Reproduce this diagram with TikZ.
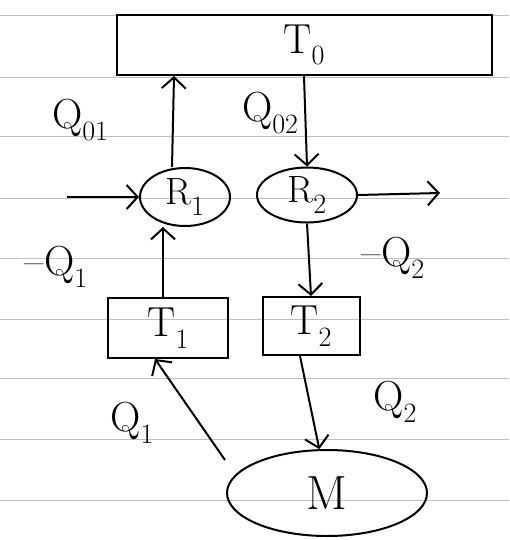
\documentclass[tikz,border=0pt]{standalone}
\usepackage{fontspec}
\usetikzlibrary{shapes.geometric,arrows.meta,calc}
\newcommand{\sbs}[1]{\raisebox{-0.28em}{\fontsize{28}{30}\selectfont #1}}
\begin{document}
\begin{tikzpicture}[x=1pt,y=-1pt,line width=2pt,
  box/.style={draw,rectangle,inner sep=0pt,font=\fontsize{42}{46}\selectfont},
  oval/.style={draw,ellipse,inner sep=0pt,font=\fontsize{38}{42}\selectfont},
  arr/.style={-{Straight Barb[length=11pt,width=24pt,line width=2pt]}},
  lab/.style={font=\fontsize{42}{46}\selectfont,inner sep=0pt},
  rule/.style={draw=gray!50,line width=0.8pt}]
\useasboundingbox (0,0) rectangle (509,540);
\foreach \yy in {15,77,136,198,258,319,378,439,500}
  \draw[rule] (0,\yy) -- (509,\yy);
% nodes
\node[box,minimum width=375pt,minimum height=60pt] (T0) at (304,45) {T\sbs{0}};
\node[oval,minimum width=90pt,minimum height=58pt] (R1) at (185,197) {R\sbs{1}};
\node[oval,minimum width=100pt,minimum height=55pt] (R2) at (307,195) {R\sbs{2}};
\node[box,minimum width=120pt,minimum height=60pt] (T1) at (168,328) {T\sbs{1}};
\node[box,minimum width=97pt,minimum height=58pt] (T2) at (311,326) {T\sbs{2}};
\node[oval,minimum width=200pt,minimum height=86pt,font=\fontsize{48}{52}\selectfont] (M) at (327,493) {M};
\coordinate (in1) at (67,197);
\coordinate (out2) at (440,193);
% connectors
\draw[arr] ([xshift=-13pt]R1.north) -- ([xshift=-130pt]T0.south);
\draw[arr] (T0.south) -- (R2.north);
\draw[arr] (in1) -- (R1.west);
\draw[arr] (R2.east) -- (out2);
\draw[arr] ([xshift=-5pt]T1.north) -- ([xshift=-5pt]T1.north |- R1.south);
\draw[arr] (R2.south) -- (T2.north);
\draw[arr] ($(M.center)+(-102,-33)$) -- ([xshift=-13pt]T1.south);
\draw[arr] ([xshift=-11pt]T2.south) -- (M.100);
% labels
\node[lab] (lQ01) at (80,120) {Q\sbs{01}};
\node[lab] (lQ02) at (270,113) {Q\sbs{02}};
\node[lab] (lmQ1) at (56,267) {\textendash Q\sbs{1}};
\node[lab] (lmQ2) at (393,258) {\textendash Q\sbs{2}};
\node[lab] (lQ1) at (132,423) {Q\sbs{1}};
\node[lab] (lQ2) at (395,402) {Q\sbs{2}};
\end{tikzpicture}
\end{document}
